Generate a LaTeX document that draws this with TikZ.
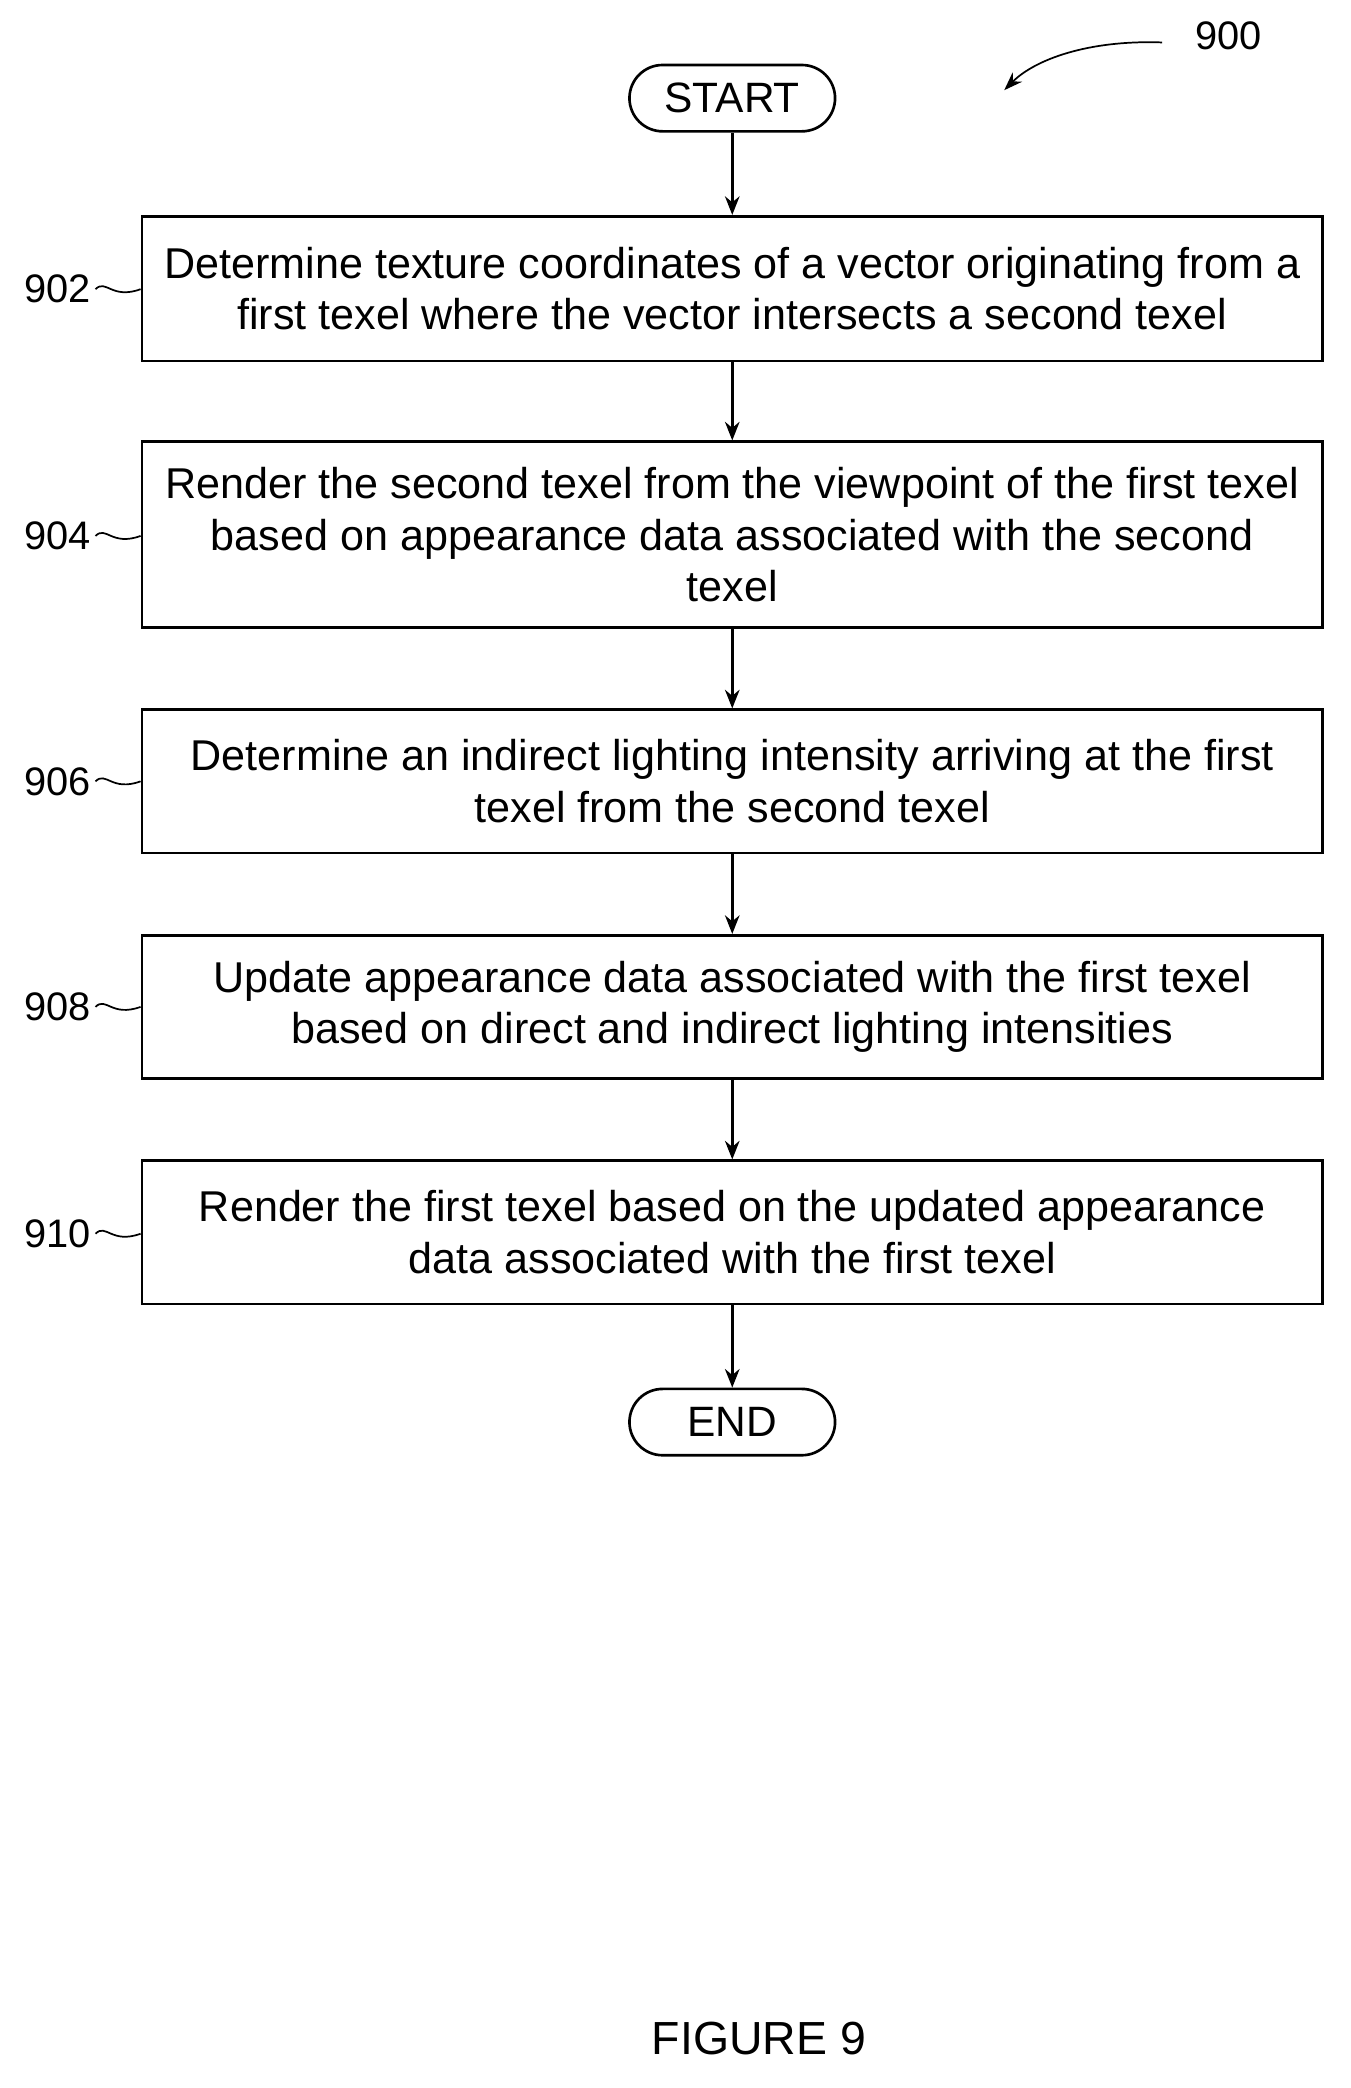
\documentclass[tikz,border=0pt]{standalone}
\usepackage{fontspec}
\setmainfont{Liberation Sans}
\usetikzlibrary{arrows.meta}
\begin{document}
\begin{tikzpicture}[x=1pt,y=-1pt,
  box/.style={draw,line width=2pt,minimum width=890pt,align=center,font=\fontsize{32.5}{39}\selectfont},
  term/.style={draw,line width=2pt,rounded corners=25pt,minimum width=155pt,minimum height=50pt,font=\fontsize{32}{36}\selectfont},
  arr/.style={line width=2pt,-{Stealth[length=14pt,width=11pt]}},
  lab/.style={font=\fontsize{30}{34}\selectfont},
  sq/.style={line width=1.3pt}]
\useasboundingbox (0,0) rectangle (1018,1574);
\node[term] (start) at (552,74) {START};
\node[box,minimum height=109pt] (b1) at (552,217.5) {Determine texture coordinates of a vector originating from a\\first texel where the vector intersects a second texel};
\node[box,minimum height=140pt] (b2) at (552,403) {Render the second texel from the viewpoint of the first texel\\based on appearance data associated with the second\\texel};
\node[box,minimum height=108pt] (b3) at (552,589) {Determine an indirect lighting intensity arriving at the first\\texel from the second texel};
\node[box,minimum height=108pt] (b4) at (552,759) {Update appearance data associated with the first texel\\based on direct and indirect lighting intensities};
\node[box,minimum height=108pt] (b5) at (552,929) {Render the first texel based on the updated appearance\\data associated with the first texel};
\node[term] (end) at (552,1072) {END};
\draw[arr] (start) -- (b1);
\draw[arr] (b1) -- (b2);
\draw[arr] (b2) -- (b3);
\draw[arr] (b3) -- (b4);
\draw[arr] (b4) -- (b5);
\draw[arr] (b5) -- (end);
\foreach \n/\y/\b in {902/218/b1,904/404/b2,906/589/b3,908/759/b4,910/930/b5}{
  \node[lab,anchor=east] (l\n) at (72,\y) {\n};
  \draw[sq] (l\n.east) .. controls (80,\y-8) and (84,\y+8) .. (\b.west|-l\n.east);
}
\node[lab] (l900) at (926,27) {900};
\coordinate (a900) at (757,68);
\draw[line width=1.3pt,-{Stealth[length=14pt,width=10pt]}] (876,32) .. controls (820,30) and (780,45) .. (a900);
\node[font=\fontsize{35}{40}\selectfont] (fig) at (572,1537) {FIGURE 9};
\end{tikzpicture}
\end{document}
